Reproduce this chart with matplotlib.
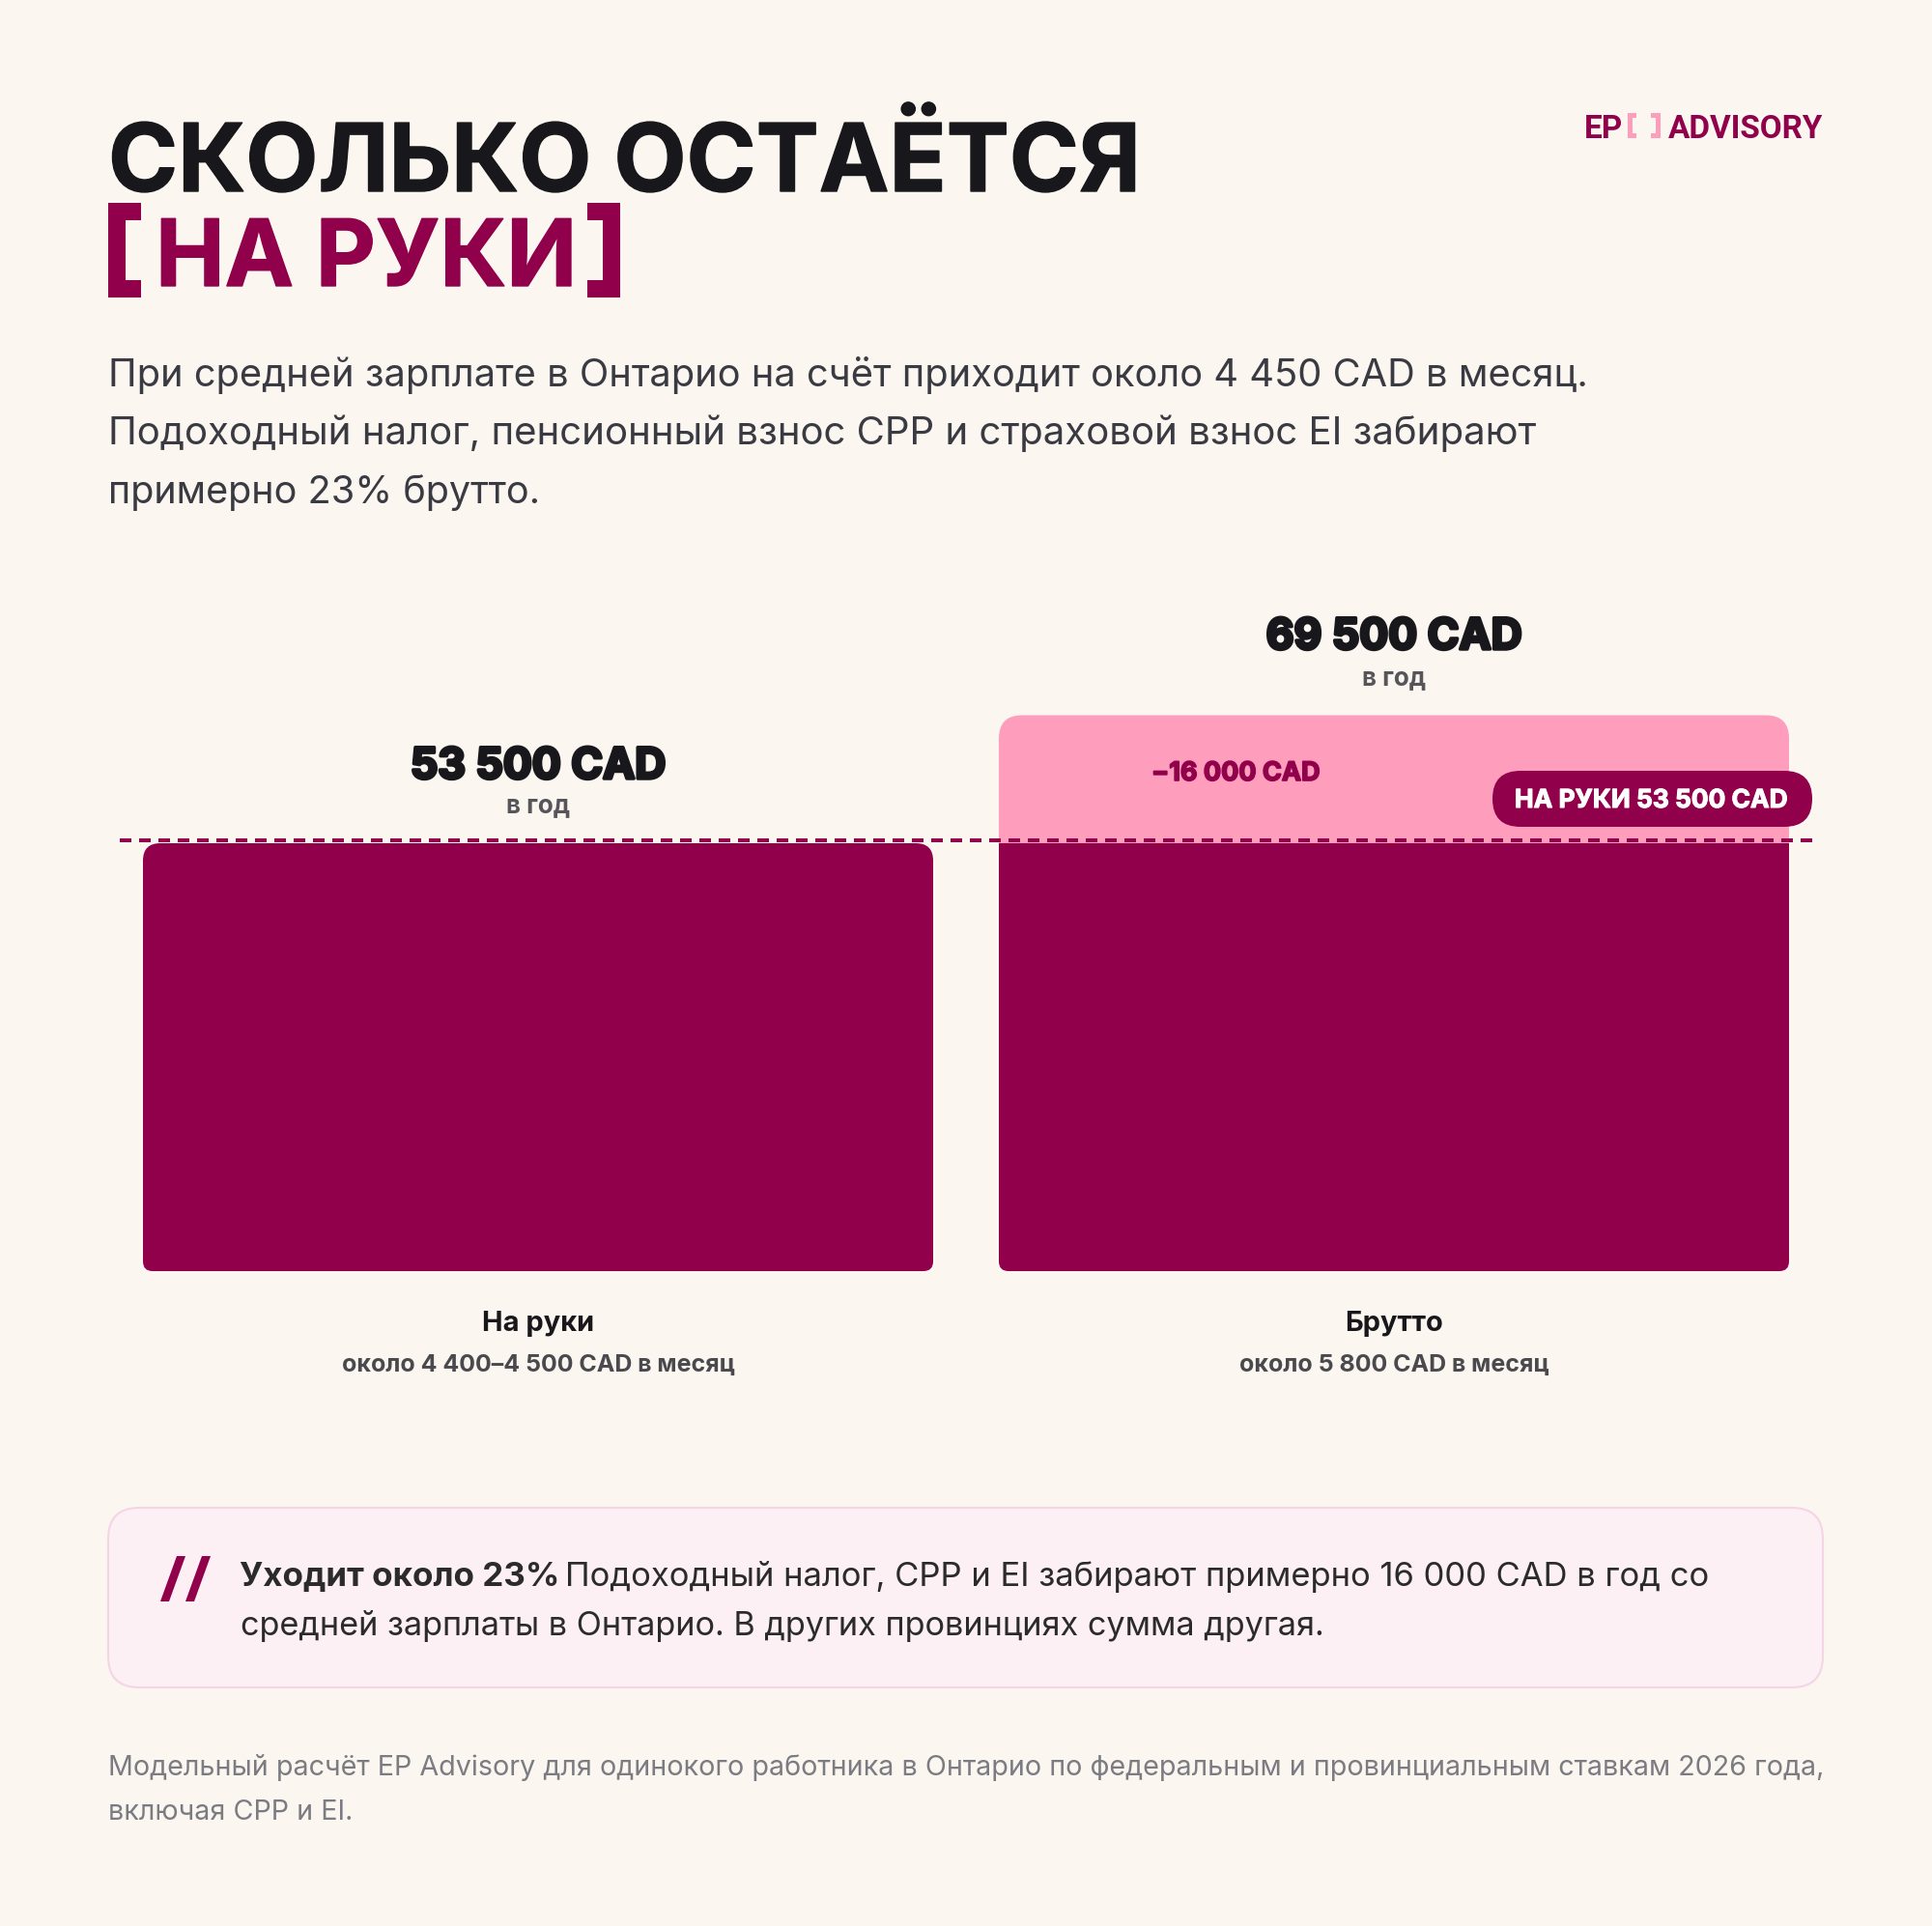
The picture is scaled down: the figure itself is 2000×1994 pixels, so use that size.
import matplotlib
matplotlib.use('Agg')
import matplotlib.pyplot as plt
import matplotlib.patheffects as pe
from matplotlib.patches import FancyBboxPatch, PathPatch, Polygon
from matplotlib.path import Path

### Data ###
list_Categories = ['На руки', 'Брутто']
list_Monthly = ['около 4 400–4 500 CAD в месяц', 'около 5 800 CAD в месяц']
list_Totals = [53500, 69500]
list_Labels = ['53 500 CAD', '69 500 CAD']
i_Net = 53500
i_Deduction = 16000

str_Title1 = 'СКОЛЬКО ОСТАЁТСЯ'
str_Title2 = 'НА РУКИ'
list_Subtitle = ['При средней зарплате в Онтарио на счёт приходит около 4 450 CAD в месяц.',
                 'Подоходный налог, пенсионный взнос CPP и страховой взнос EI забирают',
                 'примерно 23% брутто.']
list_Footer = ['Модельный расчёт EP Advisory для одинокого работника в Онтарио по федеральным и провинциальным ставкам 2026 года,',
               'включая CPP и EI.']

### Colours ###
c_Bg = '#FBF6F0'
c_Dark = '#91004A'
c_Pink = '#FF9DBD'
c_Ink = '#18181C'

W, H = 2000, 1994
plt.rcParams['font.family'] = ['Inter', 'Liberation Sans', 'DejaVu Sans']
fig = plt.figure(figsize=(W/100, H/100), dpi=100, facecolor=c_Bg)

## Bars axes: baseline at y=1316 px, 53 500 CAD top at y=873 px
f_PxPerCad = (1316-873)/i_Net
i_AxLeft, i_AxRight, i_AxTop = 100, 1900, 600
ax = fig.add_axes([i_AxLeft/W, (H-1316)/H, (i_AxRight-i_AxLeft)/W, (1316-i_AxTop)/H])
ax.set_xlim((i_AxLeft-557)/886, (i_AxRight-557)/886)
ax.set_ylim(0, (1316-i_AxTop)/f_PxPerCad)
ax.axis('off')
f_BarW = 818/886

def BarPatch(xc, y0, y1, rTop, rBottom, color):
    # rounded bar, radii are in pixels
    x0, x1 = xc-f_BarW/2, xc+f_BarW/2
    rtx, rty = rTop/886, rTop/f_PxPerCad
    rbx, rby = rBottom/886, rBottom/f_PxPerCad
    verts = [(x0+rbx, y0), (x1-rbx, y0), (x1, y0), (x1, y0+rby), (x1, y1-rty), (x1, y1), (x1-rtx, y1),
             (x0+rtx, y1), (x0, y1), (x0, y1-rty), (x0, y0+rby), (x0, y0), (x0+rbx, y0)]
    codes = [Path.MOVETO, Path.LINETO, Path.CURVE3, Path.CURVE3, Path.LINETO, Path.CURVE3, Path.CURVE3,
             Path.LINETO, Path.CURVE3, Path.CURVE3, Path.LINETO, Path.CURVE3, Path.CURVE3]
    ax.add_patch(PathPatch(Path(verts, codes), facecolor=color, edgecolor='none'))

BarPatch(0, 0, list_Totals[0], 18, 10, c_Dark)
BarPatch(1, i_Net-1000, i_Net+i_Deduction, 24, 0, c_Pink)
BarPatch(1, 0, i_Net, 0, 10, c_Dark)

## Dashed line sits 3 px above the bar top in the reference
ax.plot([(124-557)/886, (1876-557)/886], [i_Net+3/f_PxPerCad]*2, color=c_Dark, lw=2.88,
        dashes=(3, 2), dash_capstyle='butt')

## Overlay in pixel coordinates
ov = fig.add_axes([0, 0, 1, 1], zorder=5)
ov.set_xlim(0, W)
ov.set_ylim(H, 0)
ov.axis('off')
ov.patch.set_alpha(0)

def T(x, y, s, px, color=c_Ink, weight='normal', ha='left', fat=0, family=None):
    t = ov.text(x, y, s, fontsize=px*0.72, color=color, fontweight=weight, ha=ha, va='baseline')
    if family:
        t.set_family(family)
    if fat:
        t.set_path_effects([pe.withStroke(linewidth=fat, foreground=color)])
    return t

def Bracket(x0, x1, y0, y1, th, color=c_Dark, left=True):
    # square bracket drawn as a polygon
    if left:
        pts = [(x0, y0), (x1, y0), (x1, y0+th), (x0+th, y0+th), (x0+th, y1-th), (x1, y1-th), (x1, y1), (x0, y1)]
    else:
        pts = [(x1, y0), (x0, y0), (x0, y0+th), (x1-th, y0+th), (x1-th, y1-th), (x0, y1-th), (x0, y1), (x1, y1)]
    ov.add_patch(Polygon(pts, closed=True, facecolor=color, edgecolor='none'))

## Title
T(112, 198, str_Title1, 97.5, weight='bold', fat=1)
T(161, 296, str_Title2, 95.8, color=c_Dark, weight='bold', fat=1)
Bracket(112, 146, 210, 308, 18)
Bracket(608, 642, 210, 308, 18, left=False)

## Logo
T(1640, 143, 'EP', 33.3, color=c_Dark, weight='bold', family='Roboto')
T(1727, 143, 'ADVISORY', 33.3, color=c_Dark, weight='bold', family='Roboto')
Bracket(1685, 1694, 117, 143, 5, color=c_Pink)
Bracket(1709, 1719, 117, 143, 5, color=c_Pink, left=False)

## Subtitle
for y, s, px in zip([400, 460, 521], list_Subtitle, [39.8, 40.2, 39.6]):
    T(112, y, s, px, color='#3A3A42')

## Bar value labels
for xc, yv, yy, s in zip([557, 1443], [806, 672], [841, 709], list_Labels):
    T(xc, yv, s, 44.4, weight='bold', ha='center', fat=2.5)
    T(xc, yy, 'в год', 26, color='#55555A', weight='bold', ha='center')

T(1192, 808, '−16 000 CAD', 27, color=c_Dark, weight='bold', fat=1.2)

## Pill
ov.add_patch(FancyBboxPatch((1574, 827), 273, 0.01, boxstyle='round,pad=29,rounding_size=29',
                            facecolor=c_Dark, edgecolor='none'))
T(1568, 836, 'НА РУКИ 53 500 CAD', 26.3, color='white', weight='bold', fat=0.8)

## Category labels
for xc, cat, sub in zip([557, 1443], list_Categories, list_Monthly):
    T(xc, 1378, cat, 29, weight='bold', ha='center')
    T(xc, 1420, sub, 25, color='#4A4A4E', weight='bold', ha='center')

## Callout
ov.add_patch(FancyBboxPatch((112+32, 1561+32), 1775-64, 186-64, boxstyle='round,pad=32,rounding_size=32',
                            facecolor='#FCF0F5', edgecolor='#F5D5E5', lw=1.5))
for dx in (0, 26):
    ov.add_patch(Polygon([(183+dx, 1611), (192+dx, 1611), (175+dx, 1658), (166+dx, 1658)], facecolor=c_Dark, edgecolor='none'))
T(248, 1642, 'Уходит около 23%', 35, color='#2B2B2B', weight='bold')
T(585, 1642, 'Подоходный налог, CPP и EI забирают примерно 16 000 CAD в год со', 34.55, color='#2B2B2B')
T(249, 1693, 'средней зарплаты в Онтарио. В других провинциях сумма другая.', 34.25, color='#2B2B2B')

## Footer
for y, s in zip([1838, 1884], list_Footer):
    T(112, y, s, 28.7, color='#7B7B82')

fig.savefig('out.png', dpi=100, facecolor=c_Bg)
